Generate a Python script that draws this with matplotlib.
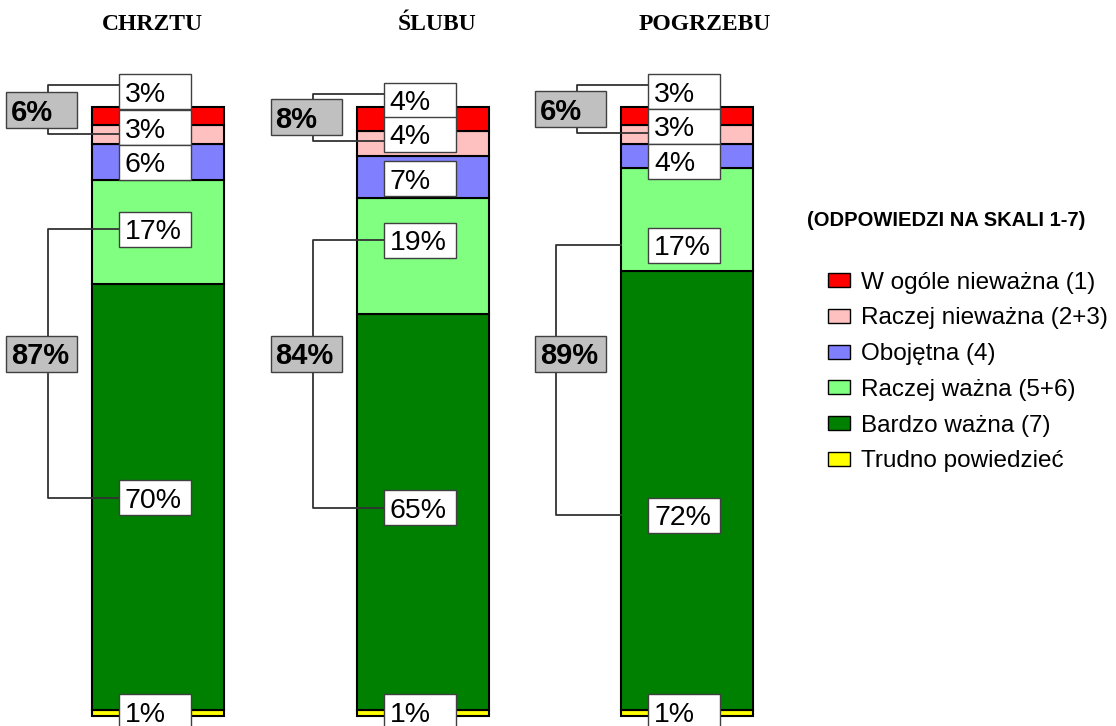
import numpy as np
import matplotlib
matplotlib.use('Agg')
import matplotlib.pyplot as plt
from matplotlib.patches import Rectangle

# dane
okazje = ['CHRZTU', 'ŚLUBU', 'POGRZEBU']
kategorie = ['W ogóle nieważna (1)', 'Raczej nieważna (2+3)', 'Obojętna (4)',
             'Raczej ważna (5+6)', 'Bardzo ważna (7)', 'Trudno powiedzieć']
kolory = ['#ff0000', '#ffc0c0', '#8080ff', '#80ff80', '#008000', '#ffff00']

w_ogole_niewazna = [3, 4, 3]
raczej_niewazna = [3, 4, 3]
obojetna = [6, 7, 4]
raczej_wazna = [17, 19, 17]
bardzo_wazna = [70, 65, 72]
trudno_powiedziec = [1, 1, 1]

suma_niewazna = [6, 8, 6]
suma_wazna = [87, 84, 89]

wartosci = [w_ogole_niewazna, raczej_niewazna, obojetna,
            raczej_wazna, bardzo_wazna, trudno_powiedziec]

# przesuniecia etykiet wzgledem srodka segmentu (w %)
przesun = [[4.0, 3.1, 4.0],
           [1.1, 1.5, 1.3],
           [-0.1, -0.3, -0.9],
           [0.4, 2.6, -4.2],
           [-0.2, 0.7, -4.0],
           [0.2, 0.2, 0.2]]

# uklad w pikselach
SX = 264.5          # px na jednostke x
SY = 6.09           # px na 1%
X0, Y0 = 158, 716   # srodek pierwszego slupka, dol slupkow


def dx(px):
    return (px - X0) / SX


def dy(py):
    return (Y0 - py) / SY


fig = plt.figure(figsize=(11.16, 7.26), dpi=100)
ax = fig.add_axes([0, 0, 1, 1])
ax.set_xlim(dx(0), dx(1116))
ax.set_ylim(dy(726), dy(0))
ax.axis('off')

x = np.arange(len(okazje))
szer = 132 / SX

# slupki skumulowane od dolu (odwrotna kolejnosc legendy)
dol = np.zeros(len(okazje))
srodki = [None] * len(kategorie)
for k in reversed(range(len(kategorie))):
    v = np.array(wartosci[k], dtype=float)
    ax.bar(x, v, bottom=dol, width=szer, color=kolory[k],
           edgecolor='black', linewidth=1.5, zorder=2)
    srodki[k] = dol + v / 2
    dol = dol + v

# etykiety w bialych ramkach
bw, bh = 72 / SX, 35 / SY
pozycje = np.zeros((len(kategorie), len(okazje)))
for k in range(len(kategorie)):
    for i in range(len(okazje)):
        yc = srodki[k][i] + przesun[k][i]
        pozycje[k, i] = yc
        bx = x[i] - 3 / SX - bw / 2
        ax.add_patch(Rectangle((bx, yc - bh / 2), bw, bh, facecolor='white',
                               edgecolor='#404040', linewidth=1, zorder=5))
        ax.text(bx + 6 / SX, yc, f'{wartosci[k][i]}%', ha='left',
                va='center_baseline', fontsize=20.5,
                family='Liberation Sans', zorder=6)

# szare ramki z sumami i klamry
gw, gh = 71 / SX, 36 / SY
lc = '#333333'
koniec_duzej = ['box', 'box', 'bar']
duza_vx = [-110, -110, -131]
for i in range(len(okazje)):
    gx = x[i] - 152 / SX
    box_left = x[i] - 3 / SX - bw / 2

    # mala klamra: W ogole + Raczej niewazna
    y_top = pozycje[0, i] + 1.1
    y_bot = pozycje[1, i] - 1.1
    vx = x[i] - 110 / SX
    ax.plot([box_left, vx, vx, box_left], [y_top, y_top, y_bot, y_bot],
            color=lc, linewidth=1.3, zorder=4)
    gy = (y_top + y_bot) / 2
    ax.add_patch(Rectangle((gx, gy - gh / 2), gw, gh, facecolor='#c0c0c0',
                           edgecolor='#404040', linewidth=1, zorder=5))
    ax.text(gx + 5 / SX, gy, f'{suma_niewazna[i]}%', ha='left',
            va='center_baseline', fontsize=21, fontweight='bold',
            family='Liberation Sans', zorder=6)

    # duza klamra: Raczej wazna + Bardzo wazna
    y_top = pozycje[3, i]
    y_bot = pozycje[4, i]
    vx = x[i] + duza_vx[i] / SX
    xe = box_left if koniec_duzej[i] == 'box' else x[i] - szer / 2
    ax.plot([xe, vx, vx, xe], [y_top, y_top, y_bot, y_bot],
            color=lc, linewidth=1.3, zorder=4)
    gy = dy(353.5)
    ax.add_patch(Rectangle((gx, gy - gh / 2), gw, gh, facecolor='#c0c0c0',
                           edgecolor='#404040', linewidth=1, zorder=5))
    ax.text(gx + 5 / SX, gy, f'{suma_wazna[i]}%', ha='left',
            va='center_baseline', fontsize=21, fontweight='bold',
            family='Liberation Sans', zorder=6)

# tytuly nad slupkami
tyt_px = [152, 437, 705]
for i, t in enumerate(okazje):
    ax.text(dx(tyt_px[i]), dy(25), t, ha='center', va='center',
            fontsize=17, fontweight='bold', family='Liberation Serif')

# legenda
ax.text(dx(807), dy(221), '(ODPOWIEDZI NA SKALI 1-7)', ha='left', va='center',
        fontsize=14.5, fontweight='bold', family='Liberation Sans')
for k, kat in enumerate(kategorie):
    ry = 280 + 35.8 * k
    ax.add_patch(Rectangle((dx(828), dy(ry + 7)), 22 / SX, 14 / SY,
                           facecolor=kolory[k], edgecolor='black',
                           linewidth=1, zorder=3))
    ax.text(dx(861), dy(ry), kat, ha='left', va='center_baseline',
            fontsize=17.5, family='Liberation Sans')

fig.savefig('out.png', dpi=100)
